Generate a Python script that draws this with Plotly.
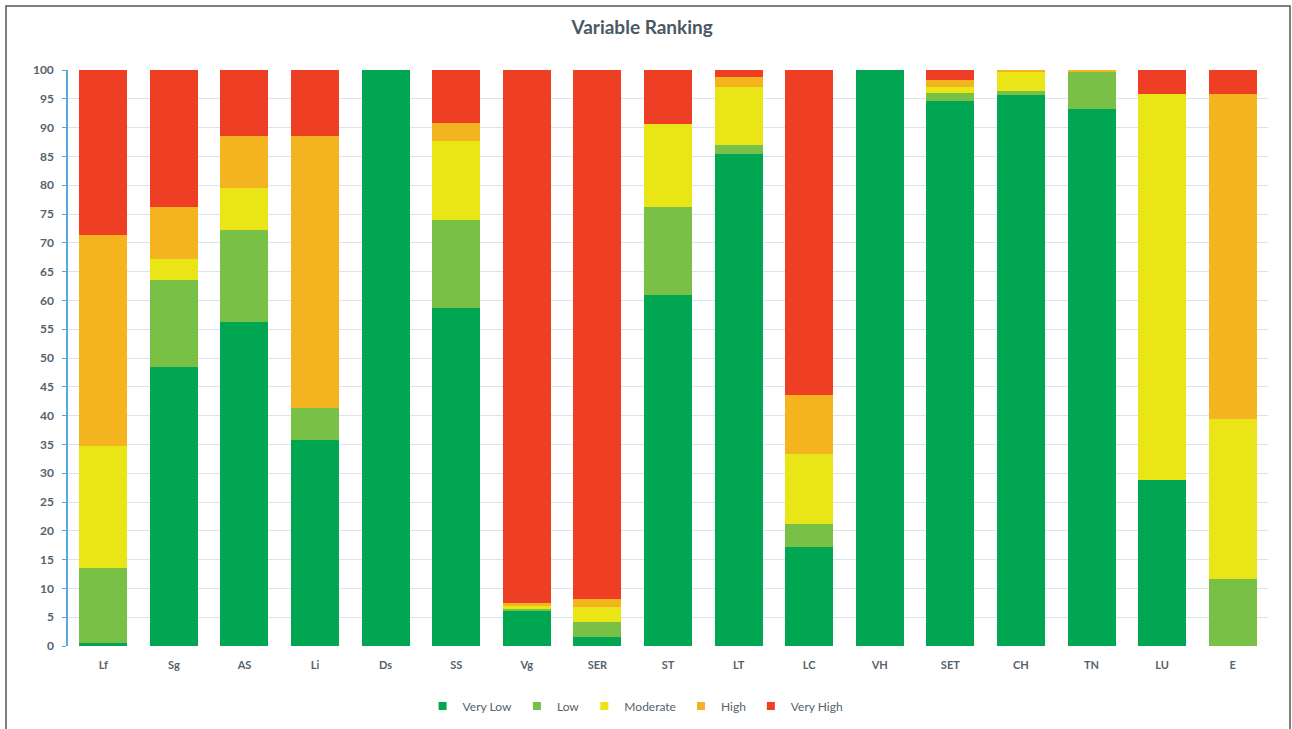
import plotly.graph_objects as go

categories = ["Lf", "Sg", "AS", "Li", "Ds", "SS", "Vg", "SER", "ST", "LT", "LC", "VH", "SET", "CH", "TN", "LU", "E"]

very_low = [0.6, 48.4, 56.2, 35.8, 100.0, 58.7, 6.0, 1.5, 60.9, 85.4, 17.2, 100.0, 94.6, 95.7, 93.3, 28.9, 0.0]
low      = [12.9, 15.1, 16.0, 5.5, 0.0, 15.2, 0.4, 2.6, 15.4, 1.6, 4.0, 0.0, 1.4, 0.6, 6.5, 0.0, 11.6]
moderate = [21.2, 3.7, 7.4, 0.0, 0.0, 13.8, 0.5, 2.6, 14.3, 10.1, 12.1, 0.0, 1.1, 3.5, 0.0, 66.9, 27.8]
high     = [36.6, 9.0, 8.9, 47.2, 0.0, 3.1, 0.5, 1.4, 0.0, 1.7, 10.3, 0.0, 1.2, 0.2, 0.2, 0.0, 56.5]
very_high = [28.7, 23.8, 11.5, 11.5, 0.0, 9.2, 92.6, 91.9, 9.4, 1.2, 56.4, 0.0, 1.7, 0.0, 0.0, 4.2, 4.1]

series_names = ["Very Low", "Low", "Moderate", "High", "Very High"]
series_values = [very_low, low, moderate, high, very_high]
series_colors = ["#00a651", "#78c046", "#e9e516", "#f4b41f", "#ee3e23"]

y_ticks = list(range(0, 101, 5))

fig = go.Figure()
for name, vals, col in zip(series_names, series_values, series_colors):
    fig.add_trace(go.Bar(
        x=categories, y=vals, name=name, legendgroup=name,
        marker=dict(color=col, line=dict(width=0)),
        showlegend=False,
    ))
# legend entries with small square swatches
for name, col in zip(series_names, series_colors):
    fig.add_trace(go.Scatter(
        x=[None], y=[None], mode="markers", name=name, legendgroup=name,
        marker=dict(symbol="square", size=8, color=col),
        showlegend=True,
    ))

title_col = "#4a5864"
text_col = "#56626c"
fig.update_layout(
    barmode="stack",
    bargap=0.32,
    width=1292, height=729,
    margin=dict(l=68, r=24, t=70, b=83, autoexpand=False),
    paper_bgcolor="white",
    plot_bgcolor="white",
    title=dict(
        text="Variable Ranking",
        x=0.497, xref="container", xanchor="center",
        y=0.963, yref="container", yanchor="middle",
        font=dict(family="Lato", size=19, color=title_col, weight="bold"),
    ),
    font=dict(family="Lato", color=text_col),
    showlegend=True,
    legend=dict(
        orientation="h",
        x=0.473, xanchor="center",
        y=-0.104, yanchor="middle",
        font=dict(family="Lato", size=12, color=text_col),
        traceorder="normal",
        itemwidth=30,
    ),
    xaxis=dict(
        showgrid=False,
        showline=False,
        automargin=False,
        ticks="outside",
        ticklen=9,
        tickcolor="rgba(0,0,0,0)",
        tickfont=dict(family="Lato", size=11, color=text_col, weight="bold"),
    ),
    yaxis=dict(
        range=[0, 100],
        tickvals=y_ticks,
        automargin=False,
        showgrid=True,
        gridcolor="#dce3ec",
        gridwidth=1,
        zeroline=False,
        showline=True,
        linecolor="#5aa7e0",
        linewidth=1.5,
        ticks="outside",
        ticklen=4,
        tickcolor="#5aa7e0",
        ticklabelstandoff=6,
        tickfont=dict(family="Lato", size=12, color=text_col, weight="bold"),
    ),
)

# outer chart border
fig.add_shape(
    type="rect", xref="paper", yref="paper",
    x0=(6 - 68) / 1200, x1=(1290 - 68) / 1200,
    y0=(646 - 740) / 576, y1=(646 - 6) / 576,
    line=dict(color="#555555", width=1.5),
    fillcolor="rgba(0,0,0,0)",
    layer="below",
)

fig.write_html("out.html")
